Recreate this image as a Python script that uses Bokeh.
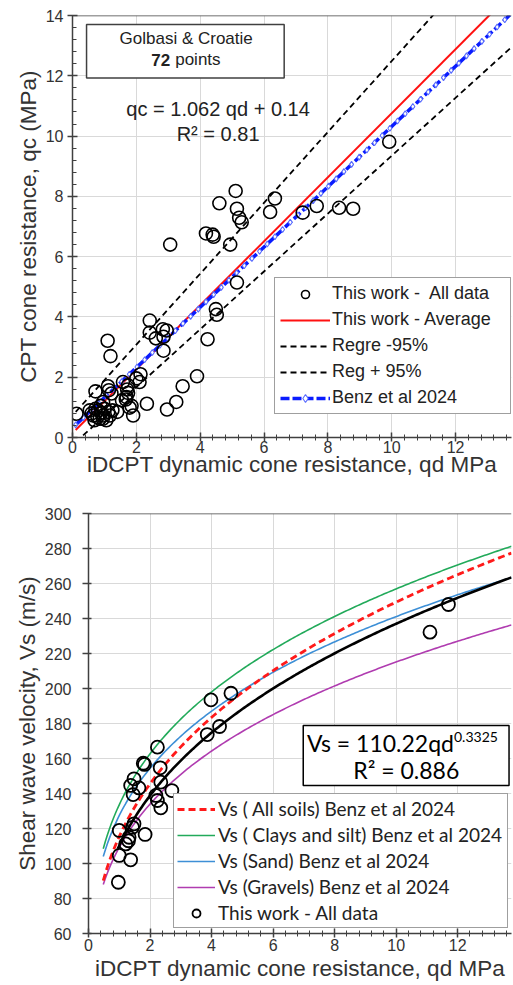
import numpy as np
from bokeh.plotting import figure
from bokeh.layouts import column, row
from bokeh.models import (Legend, LegendItem, BoxAnnotation, Label, Span,
                          SingleIntervalTicker, Range1d)
from bokeh.embed import file_html
from bokeh.resources import INLINE

# ---------------- Top chart data (qc vs qd) ----------------
qd_top = [5.11, 4.60, 5.15, 5.22, 5.30, 6.34, 6.19, 3.06, 4.18, 4.39,
          4.42, 4.94, 5.15, 4.49, 4.52, 2.42, 4.23, 2.42, 2.83, 2.61,
          2.85, 2.85, 1.10, 1.19, 3.90, 3.45, 3.25, 2.96, 2.33, 2.13,
          2.00, 1.58, 1.71, 1.69, 1.55, 1.79, 1.90, 1.14, 0.72, 0.96,
          0.125, 7.21, 7.65, 8.35, 8.79, 9.92, 0.54, 0.65, 0.80, 0.96,
          0.85, 0.69, 1.06, 1.17, 1.11, 1.22, 1.74, 1.74, 1.67, 0.90,
          0.72, 1.00, 0.60, 0.88, 1.25, 0.78, 2.10, 1.40, 0.95, 1.12,
          2.95, 1.85]
qc_top = [8.18, 7.77, 7.59, 7.29, 7.14, 7.93, 7.48, 6.40, 6.77, 6.73,
          6.66, 6.40, 5.14, 4.26, 4.07, 3.88, 3.26, 3.48, 3.59, 3.29,
          3.34, 2.88, 3.21, 2.70, 2.03, 1.70, 1.18, 0.93, 1.12, 2.10,
          1.96, 1.84, 1.59, 1.34, 1.23, 0.99, 0.73, 1.57, 1.53, 1.18,
          0.79, 7.46, 7.68, 7.62, 7.59, 9.81, 0.90, 0.73, 0.90, 0.73,
          0.62, 0.57, 0.57, 0.73, 1.70, 1.46, 1.73, 1.48, 1.26, 0.82,
          0.95, 0.95, 0.80, 1.05, 0.90, 0.68, 1.84, 0.85, 0.62, 0.85,
          3.55, 1.05]

# line coefficients (slope, intercept)
avg_coef = (1.062, 0.14)
upper_coef = (1.176, 0.73)
lower_coef = (0.96, -0.25)
benz_top_coef = (1.0, 0.32)
line_span = [0.1, 13.75]
benz_marker_qd = list(np.arange(0.1, 13.8, 0.24))

# ---------------- Bottom chart data (Vs vs qd) ----------------
qd_bot = [2.24, 1.78, 1.82, 2.33, 1.48, 2.35, 1.37, 1.64, 1.45, 2.71,
          2.19, 2.24, 2.35, 1.48, 1.84, 1.00, 1.32, 1.21, 1.00, 1.37,
          0.97, 3.86, 3.98, 4.63, 4.26, 11.70, 11.10, 1.30, 1.43]
vs_bot = [166.5, 157.3, 156.6, 154.7, 148.4, 146.5, 144.6, 143.2, 139.4, 141.7,
          138.9, 136.0, 131.8, 122.7, 116.6, 118.9, 115.0, 111.2, 104.6, 102.1,
          89.3, 173.7, 193.5, 197.3, 178.3, 248.0, 232.2, 113.0, 120.7]

fit_coef = (110.22, 0.3325)
benz_all = (115.4, 0.3346)
benz_clay = (133.6, 0.284)
benz_sand = (127.4, 0.277)
benz_gravel = (109.2, 0.2945)
benz_q = np.linspace(0.48, 13.75, 200)
fit_q = np.linspace(0.95, 13.75, 200)

AX = "#404040"
ARIAL = "Liberation Sans"

def style_axes(p, fs_tick="16px", fs_lab="22.5px"):
    for ax in (p.xaxis[0], p.yaxis[0]):
        ax.axis_line_color = AX
        ax.axis_line_width = 1.5
        ax.major_tick_line_color = AX
        ax.minor_tick_line_color = AX
        ax.major_tick_line_width = 1.5
        ax.major_label_text_font = ARIAL
        ax.major_label_text_font_size = fs_tick
        ax.major_label_text_color = "#333333"
        ax.axis_label_text_font = ARIAL
        ax.axis_label_text_font_size = fs_lab
        ax.axis_label_text_font_style = "normal"
        ax.axis_label_text_color = "#333333"
    p.grid.grid_line_color = "#d9d9d9"
    p.grid.grid_line_width = 1
    p.outline_line_color = None
    p.background_fill_color = "white"
    p.border_fill_color = "white"

# ================= TOP FIGURE =================
p1 = figure(width=513, height=483, x_range=Range1d(0, 13.75), y_range=Range1d(0, 14),
            output_backend="svg", toolbar_location=None, tools="",
            min_border_left=72, min_border_right=2, min_border_top=15, min_border_bottom=46)
style_axes(p1)
p1.xaxis.ticker = SingleIntervalTicker(interval=2, num_minor_ticks=5)
p1.yaxis.ticker = SingleIntervalTicker(interval=2, num_minor_ticks=5)
p1.xaxis.axis_label = "iDCPT dynamic cone resistance, qd MPa"
p1.yaxis.axis_label = "CPT cone resistance, qc (MPa)"
p1.xaxis.major_tick_in = 5; p1.xaxis.major_tick_out = 4
p1.xaxis.minor_tick_in = 3; p1.xaxis.minor_tick_out = 3
p1.xaxis.major_label_standoff = -1
p1.xaxis.axis_label_standoff = -4
p1.yaxis.major_tick_in = 5; p1.yaxis.major_tick_out = 5
p1.yaxis.minor_tick_in = 4; p1.yaxis.minor_tick_out = 0
p1.yaxis.major_label_standoff = 4
p1.yaxis.axis_label_standoff = 2
p1.add_layout(Span(location=14, dimension="width", line_color=AX, line_width=1.5))

xs = np.array(line_span)
r_lower = p1.line(xs, lower_coef[0] * xs + lower_coef[1], line_color="black",
                  line_width=1.8, line_dash="6 4")
r_upper = p1.line(xs, upper_coef[0] * xs + upper_coef[1], line_color="black",
                  line_width=1.8, line_dash="6 4")
r_avg = p1.line(xs, avg_coef[0] * xs + avg_coef[1], line_color="#ff1010", line_width=2)
bm = np.array(benz_marker_qd)
r_benz_l = p1.line(xs, benz_top_coef[0] * xs + benz_top_coef[1], line_color="#0a1cff",
                   line_width=3.5, line_dash="9 3")
r_benz_m = p1.scatter(bm, benz_top_coef[0] * bm + benz_top_coef[1], marker="diamond",
                      size=6, line_color="#5a6dff", fill_color="white", line_width=1.1)
r_pts = p1.scatter(qd_top, qc_top, marker="circle", size=13, line_color="black",
                   fill_alpha=0, line_width=1.6)

p1.add_layout(BoxAnnotation(left=0.44, right=6.63, bottom=11.93, top=13.7,
                            fill_color="white", fill_alpha=1, line_color=AX,
                            line_width=1.5, line_alpha=1))
p1.add_layout(Label(x=3.56, y=13.23, text="Golbasi & Croatie", text_align="center",
                    text_baseline="middle", text_font=ARIAL, text_font_size="17px",
                    text_color="#222222"))
p1.add_layout(Label(x=3.06, y=12.53, text="72", text_align="right",
                    text_baseline="middle", text_font=ARIAL, text_font_size="17px",
                    text_font_style="bold", text_color="#222222"))
p1.add_layout(Label(x=3.06, y=12.53, x_offset=5, text="points", text_align="left",
                    text_baseline="middle", text_font=ARIAL, text_font_size="17px",
                    text_color="#222222"))
p1.add_layout(Label(x=4.56, y=10.9, text="qc = 1.062 qd + 0.14", text_align="center",
                    text_baseline="middle", text_font=ARIAL, text_font_size="20px",
                    text_color="#222222"))
p1.add_layout(Label(x=4.56, y=10.07, text="R² = 0.81", text_align="center",
                    text_baseline="middle", text_font=ARIAL, text_font_size="20px",
                    text_color="#222222"))

leg1 = Legend(items=[
    LegendItem(label="This work -  All data", renderers=[r_pts]),
    LegendItem(label="This work - Average", renderers=[r_avg]),
    LegendItem(label="Regre -95%", renderers=[r_lower]),
    LegendItem(label="Reg + 95%", renderers=[r_upper]),
    LegendItem(label="Benz et al 2024", renderers=[r_benz_l, r_benz_m]),
], location=(202, 23), label_text_font=ARIAL, label_text_font_size="18px",
    label_text_color="#222222", glyph_width=50, glyph_height=20, label_height=20,
    label_width=173, spacing=5, padding=5, margin=0, label_standoff=2,
    border_line_color=AX, border_line_width=1.5, background_fill_alpha=1)
p1.add_layout(leg1)

# ================= BOTTOM FIGURE =================
p2 = figure(width=513, height=502, x_range=Range1d(0, 13.75), y_range=Range1d(60, 300),
            output_backend="svg", toolbar_location=None, tools="",
            min_border_left=88, min_border_right=2, min_border_top=30, min_border_bottom=52)
style_axes(p2)
p2.xaxis.ticker = SingleIntervalTicker(interval=2, num_minor_ticks=5)
p2.yaxis.ticker = SingleIntervalTicker(interval=20, num_minor_ticks=0)
p2.xaxis.axis_label = "iDCPT dynamic cone resistance, qd MPa"
p2.yaxis.axis_label = "Shear wave velocity, Vs (m/s)"
p2.xaxis.major_tick_in = 5; p2.xaxis.major_tick_out = 4
p2.xaxis.minor_tick_in = 3; p2.xaxis.minor_tick_out = 3
p2.xaxis.major_label_standoff = 1
p2.xaxis.axis_label_standoff = 2
p2.yaxis.major_tick_in = 3; p2.yaxis.major_tick_out = 6
p2.yaxis.major_label_standoff = 11
p2.yaxis.axis_label_standoff = 2
p2.add_layout(Span(location=300, dimension="width", line_color=AX, line_width=1.5))

def power(coef, q):
    return coef[0] * q ** coef[1]

r_gr = p2.line(benz_q, power(benz_gravel, benz_q), line_color="#b03cb0", line_width=1.6)
r_sa = p2.line(benz_q, power(benz_sand, benz_q), line_color="#3d8fd6", line_width=1.6)
r_cl = p2.line(benz_q, power(benz_clay, benz_q), line_color="#22aa5a", line_width=1.6)
r_al = p2.line(benz_q, power(benz_all, benz_q), line_color="#ff1a1a", line_width=2.8,
               line_dash="7 4")
p2.line(fit_q, power(fit_coef, fit_q), line_color="black", line_width=2.6)
r_p2 = p2.scatter(qd_bot, vs_bot, marker="circle", size=13, line_color="black",
                  fill_alpha=0, line_width=1.8)

p2.add_layout(BoxAnnotation(left=6.98, right=13.67, bottom=144.6, top=178.9,
                            fill_color="white", fill_alpha=1, line_color="black",
                            line_width=1.5, line_alpha=1))
p2.add_layout(Label(x=11.88, y=169.1, text="Vs = 110.22qd", text_align="right",
                    text_baseline="middle", text_font="Lato", text_font_size="23px",
                    text_color="black"))
p2.add_layout(Label(x=11.88, y=172.5, text="0.3325", text_align="left",
                    text_baseline="middle", text_font="Lato", text_font_size="14px",
                    text_color="black"))
p2.add_layout(Label(x=10.33, y=153.7, text="R² = 0.886", text_align="center",
                    text_baseline="middle", text_font="Lato", text_font_size="23px",
                    text_color="black"))

leg2 = Legend(items=[
    LegendItem(label="Vs ( All soils) Benz et al 2024", renderers=[r_al]),
    LegendItem(label="Vs ( Clays and silt) Benz et al 2024", renderers=[r_cl]),
    LegendItem(label="Vs (Sand) Benz et al 2024", renderers=[r_sa]),
    LegendItem(label="Vs (Gravels) Benz et al 2024", renderers=[r_gr]),
    LegendItem(label="This work - All data", renderers=[r_p2]),
], location=(85, 5), label_text_font="Lato", label_text_font_size="19px",
    label_text_color="#222222", glyph_width=38, glyph_height=20, label_height=20,
    label_width=286, spacing=3, padding=3, margin=0, label_standoff=3,
    border_line_color=AX, border_line_width=1.5, background_fill_alpha=1)
p2.add_layout(leg2)

layout = column(row(p1), row(p2), spacing=0)
open("out.html", "w").write(file_html(layout, INLINE))
